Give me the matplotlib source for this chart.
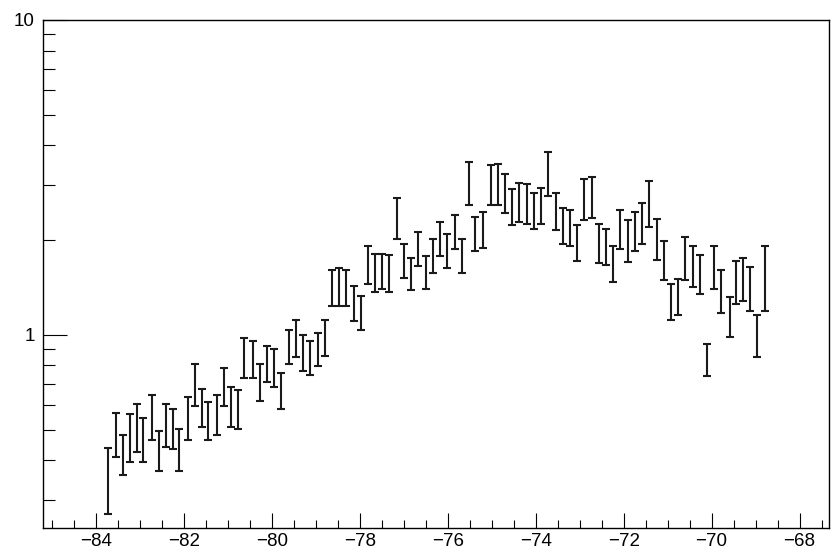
import matplotlib
matplotlib.use('Agg')
import matplotlib.pyplot as plt
from matplotlib.ticker import LogLocator, NullFormatter, FixedLocator, MultipleLocator

plt.rcParams['font.family'] = ['Liberation Sans', 'DejaVu Sans']
plt.rcParams['axes.unicode_minus'] = True

# bin centres
x = [-83.73, -83.55, -83.39, -83.22, -83.07, -82.92, -82.72, -82.56, -82.40, -82.25,
     -82.10, -81.90, -81.74, -81.58, -81.44, -81.24, -81.08, -80.93, -80.77, -80.63,
     -80.43, -80.26, -80.11, -79.96, -79.80, -79.61, -79.45, -79.30, -79.14, -78.94,
     -78.78, -78.62, -78.48, -78.32, -78.13, -77.97, -77.81, -77.66, -77.50, -77.33,
     -77.15, -76.99, -76.84, -76.68, -76.49, -76.34, -76.18, -76.02, -75.84, -75.67,
     -75.51, -75.37, -75.20, -75.01, -74.85, -74.69, -74.54, -74.38, -74.19, -74.03,
     -73.88, -73.72, -73.53, -73.37, -73.21, -73.06, -72.90, -72.72, -72.56, -72.40,
     -72.24, -72.09, -71.90, -71.74, -71.58, -71.42, -71.23, -71.08, -70.92, -70.76,
     -70.60, -70.42, -70.26, -70.10, -69.94, -69.79, -69.59, -69.44, -69.28, -69.12,
     -68.96, -68.78]

# values
y = [0.354, 0.489, 0.420, 0.477, 0.514, 0.470, 0.554, 0.432, 0.523, 0.509,
     0.436, 0.549, 0.702, 0.594, 0.538, 0.563, 0.691, 0.598, 0.585, 0.852,
     0.844, 0.713, 0.818, 0.793, 0.669, 0.922, 0.984, 0.883, 0.854, 0.905,
     0.989, 1.419, 1.431, 1.419, 1.270, 1.184, 1.682, 1.585, 1.602, 1.582,
     2.365, 1.727, 1.569, 1.886, 1.590, 1.792, 2.031, 1.860, 2.137, 1.792,
     3.067, 2.107, 2.178, 3.022, 3.038, 2.839, 2.566, 2.665, 2.633, 2.497,
     2.593, 3.287, 2.487, 2.233, 2.205, 1.969, 2.720, 2.757, 1.973, 1.919,
     1.695, 2.180, 2.011, 2.156, 2.283, 2.643, 2.037, 1.742, 1.286, 1.335,
     1.769, 1.669, 1.574, 0.839, 1.660, 1.391, 1.152, 1.483, 1.519, 1.418,
     1.005, 1.553]

# errors
yerr = [0.083, 0.078, 0.062, 0.083, 0.090, 0.076, 0.090, 0.062, 0.081, 0.073,
        0.066, 0.085, 0.105, 0.082, 0.074, 0.081, 0.095, 0.086, 0.083, 0.124,
        0.115, 0.094, 0.107, 0.108, 0.087, 0.115, 0.135, 0.115, 0.106, 0.108,
        0.129, 0.186, 0.197, 0.186, 0.164, 0.146, 0.230, 0.219, 0.202, 0.217,
        0.351, 0.214, 0.183, 0.234, 0.188, 0.222, 0.254, 0.232, 0.264, 0.222,
        0.474, 0.259, 0.285, 0.435, 0.452, 0.405, 0.336, 0.380, 0.377, 0.327,
        0.337, 0.531, 0.338, 0.292, 0.289, 0.258, 0.402, 0.410, 0.284, 0.251,
        0.222, 0.308, 0.302, 0.308, 0.342, 0.440, 0.303, 0.251, 0.170, 0.175,
        0.274, 0.248, 0.225, 0.099, 0.257, 0.217, 0.166, 0.231, 0.237, 0.229,
        0.155, 0.364]

xticks = [-84, -82, -80, -78, -76, -74, -72, -70, -68]

fig = plt.figure(figsize=(8.31, 5.52), dpi=100)
ax = fig.add_axes([0.0513, 0.0435, 0.9463, 0.9203])

ax.errorbar(x, y, yerr=yerr, fmt='none', ecolor='#1a1a1a',
            elinewidth=1.5, capsize=2.6, capthick=1.5)

ax.set_yscale('log')
ax.set_xlim(-85.21, -67.33)
ax.set_ylim(0.2439, 10)

ax.xaxis.set_major_locator(FixedLocator(xticks))
ax.xaxis.set_minor_locator(MultipleLocator(0.5))
ax.yaxis.set_minor_locator(LogLocator(base=10, subs=range(2, 10)))
ax.yaxis.set_minor_formatter(NullFormatter())
ax.set_yticks([1, 10])
ax.set_yticklabels(['1', '10'])
ax.set_xticklabels(['\u2212' + str(-t) for t in xticks])

ax.tick_params(axis='x', which='major', direction='in', length=10.8, width=0.8,
               labelsize=13.5, pad=3.5, top=False)
ax.tick_params(axis='x', which='minor', direction='in', length=5.5, width=0.8, top=False)
ax.tick_params(axis='y', which='major', direction='in', length=17.3, width=0.8,
               labelsize=13.5, pad=5.5, right=False)
ax.tick_params(axis='y', which='minor', direction='in', length=8.6, width=0.8, right=False)

for s in ax.spines.values():
    s.set_linewidth(1.0)
    s.set_color('black')

fig.savefig('out.png', dpi=100)
